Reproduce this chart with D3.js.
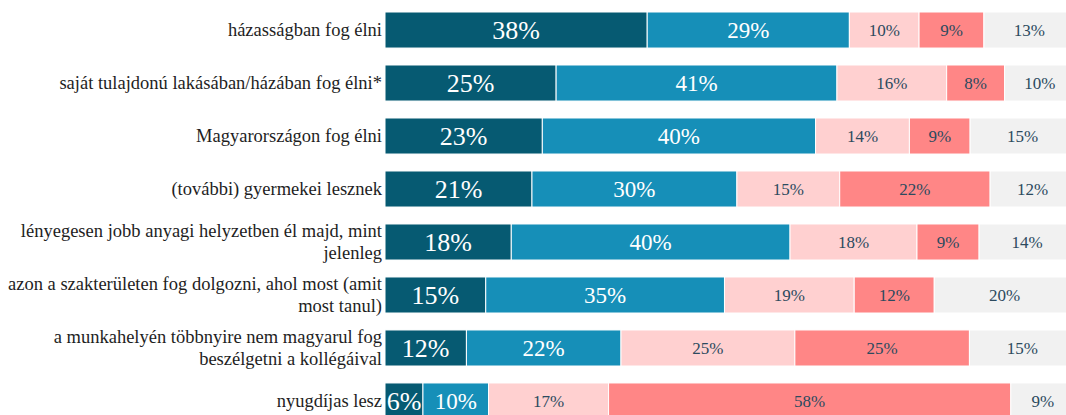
<!DOCTYPE html>
<html>
<head>
<meta charset="utf-8">
<script src="https://cdn.jsdelivr.net/npm/d3@7"></script>
<style>
  body { margin: 0; background: #fff; }
  svg { display: block; }
</style>
</head>
<body>
<script>
var categories = [
  "házasságban fog élni",
  "saját tulajdonú lakásában/házában fog élni*",
  "Magyarországon fog élni",
  "(további) gyermekei lesznek",
  "lényegesen jobb anyagi helyzetben él majd, mint jelenleg",
  "azon a szakterületen fog dolgozni, ahol most (amit most tanul)",
  "a munkahelyén többnyire nem magyarul fog beszélgetni a kollégáival",
  "nyugdíjas lesz"
];

// shares per answer, in percent
var s1 = [38.0, 24.8, 22.8, 21.3, 18.3, 14.6, 11.8, 5.5];
var s2 = [29.3, 40.7, 39.6, 29.7, 40.4, 34.6, 22.4, 9.5];
var s3 = [10.1, 15.9, 13.6, 14.9, 18.4, 18.8, 25.2, 17.4];
var s4 = [9.4, 8.4, 8.8, 21.8, 9.0, 11.6, 25.3, 58.3];
var s5 = [13.2, 10.2, 15.2, 12.3, 13.9, 20.4, 15.3, 9.3];

var seriesKeys = ["s1", "s2", "s3", "s4", "s5"];
var colors = ["#065a72", "#168fb8", "#ffd0d0", "#ff8686", "#f1f1f1"];
var textColors = ["#ffffff", "#ffffff", "#2c4a5e", "#2c4a5e", "#2c4a5e"];
var fontSizes = [26, 23, 17, 17, 17];

var rows = categories.map(function(c, i) {
  return { cat: c, s1: s1[i], s2: s2[i], s3: s3[i], s4: s4[i], s5: s5[i] };
});

var width = 1066,
    height = 415;

var svg = d3.select("body").append("svg")
  .attr("width", width)
  .attr("height", height)
  .attr("font-family", "Liberation Serif");

var x = d3.scaleLinear()
  .domain([0, 100])
  .range([385, 1075]);

var y = d3.scaleBand()
  .domain(categories)
  .range([12, 419])
  .paddingInner(0.32)
  .paddingOuter(0);

var stack = d3.stack().keys(seriesKeys);
var layers = stack(rows);

var layer = svg.append("g")
  .selectAll("g")
  .data(layers)
  .enter().append("g")
  .attr("fill", function(d, i) { return colors[i]; });

layer.selectAll("rect")
  .data(function(d) { return d; })
  .enter().append("rect")
  .attr("x", function(d) { return x(d[0]); })
  .attr("y", function(d) { return y(d.data.cat); })
  .attr("width", function(d) { return x(d[1]) - x(d[0]); })
  .attr("height", y.bandwidth())
  .style("stroke", "#fff")
  .style("stroke-width", "1px");

layer.each(function(l, i) {
  d3.select(this).selectAll("text")
    .data(l)
    .enter().append("text")
    .attr("x", function(d) { return (x(d[0]) + x(d[1])) / 2; })
    .attr("y", function(d) { return y(d.data.cat) + y.bandwidth() / 2; })
    .attr("dy", "0.35em")
    .attr("text-anchor", "middle")
    .attr("font-size", fontSizes[i])
    .attr("fill", textColors[i])
    .text(function(d) { return Math.round(d[1] - d[0]) + "%"; });
});

// category labels, wrapped to two lines when too long
var labels = svg.append("g")
  .selectAll("text")
  .data(categories)
  .enter().append("text")
  .attr("x", 382)
  .attr("text-anchor", "end")
  .attr("font-size", 18.5)
  .attr("fill", "#1e1e1e");

labels.each(function(c) {
  var t = d3.select(this);
  var words = c.split(" "), lines = [], line = [];
  var probe = t.append("tspan");
  words.forEach(function(w) {
    line.push(w);
    probe.text(line.join(" "));
    if (probe.node().getComputedTextLength() > 384 && line.length > 1) {
      line.pop();
      lines.push(line.join(" "));
      line = [w];
    }
  });
  lines.push(line.join(" "));
  probe.remove();
  var cy = y(c) + y.bandwidth() / 2;
  var lh = 22;
  lines.forEach(function(s, k) {
    t.append("tspan")
      .attr("x", 382)
      .attr("y", cy + (k - (lines.length - 1) / 2) * lh)
      .attr("dy", "0.35em")
      .text(s);
  });
});
</script>
</body>
</html>
